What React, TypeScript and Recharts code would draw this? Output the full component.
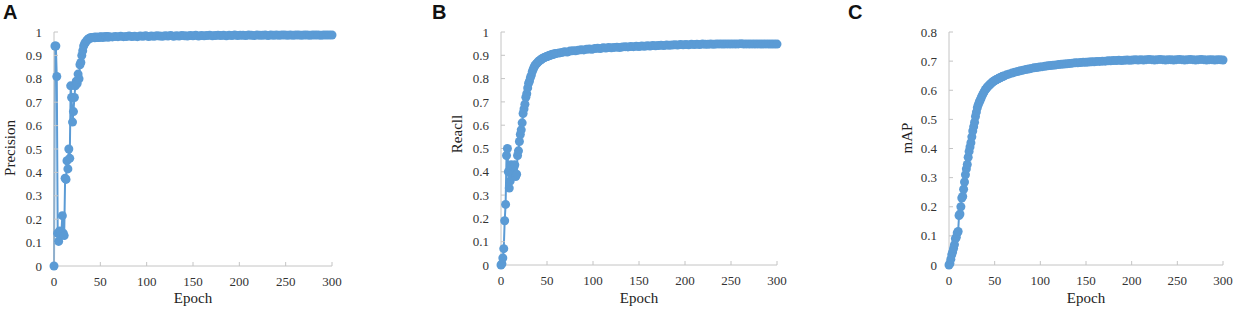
import React from 'react';
import { LineChart, Line, XAxis, YAxis, Label } from 'recharts';

// epochs 0..60 one by one, then every 3rd epoch up to 300
const earlyEpochs = Array.from({ length: 61 }, (_, i) => i);
const lateEpochs = Array.from({ length: 80 }, (_, i) => 63 + i * 3);
const epochs = [...earlyEpochs, ...lateEpochs];

const xTicks = [0, 50, 100, 150, 200, 250, 300];
const unitTicks = [0, 0.1, 0.2, 0.3, 0.4, 0.5, 0.6, 0.7, 0.8, 0.9, 1];
const mapTicks = [0, 0.1, 0.2, 0.3, 0.4, 0.5, 0.6, 0.7, 0.8];

const precision = [
  0, 0.94, 0.94, 0.81, 0.14, 0.105, 0.15, 0.13, 0.145, 0.215,
  0.14, 0.13, 0.375, 0.37, 0.45, 0.415, 0.5, 0.46, 0.77, 0.72,
  0.615, 0.66, 0.72, 0.77, 0.79, 0.78, 0.82, 0.8, 0.86, 0.87,
  0.9, 0.92, 0.94, 0.95, 0.955, 0.962, 0.966, 0.97, 0.972, 0.975,
  0.974, 0.977, 0.976, 0.978, 0.975, 0.979, 0.977, 0.978, 0.976, 0.979,
  0.978, 0.98, 0.977, 0.979, 0.978, 0.98, 0.979, 0.981, 0.978, 0.98,
  0.979,
  0.979, 0.981, 0.98, 0.982, 0.98, 0.981, 0.983, 0.981, 0.982, 0.98,
  0.983, 0.982, 0.984, 0.981, 0.983, 0.982, 0.984, 0.983, 0.982, 0.984,
  0.983, 0.985, 0.982, 0.984, 0.983, 0.985, 0.984, 0.983, 0.985, 0.984,
  0.986, 0.983, 0.985, 0.984, 0.985, 0.986, 0.984, 0.985, 0.986, 0.985,
  0.986, 0.984, 0.986, 0.985, 0.987, 0.985, 0.986, 0.986, 0.985, 0.987,
  0.986, 0.985, 0.987, 0.986, 0.986, 0.987, 0.985, 0.987, 0.986, 0.987,
  0.986, 0.987, 0.987, 0.986, 0.987, 0.986, 0.987, 0.987, 0.986, 0.987,
  0.987, 0.986, 0.987, 0.987, 0.987, 0.986, 0.987, 0.987, 0.987, 0.987,
];

const recall = [
  0, 0.005, 0.03, 0.07, 0.19, 0.26, 0.47, 0.5, 0.4, 0.33,
  0.36, 0.43, 0.38, 0.4, 0.42, 0.43, 0.38, 0.39, 0.47, 0.49,
  0.53, 0.56, 0.58, 0.61, 0.65, 0.67, 0.69, 0.72, 0.735, 0.76,
  0.78, 0.79, 0.805, 0.815, 0.83, 0.84, 0.85, 0.856, 0.862, 0.866,
  0.87, 0.874, 0.878, 0.88, 0.884, 0.886, 0.888, 0.89, 0.892, 0.894,
  0.895, 0.897, 0.898, 0.9, 0.901, 0.902, 0.904, 0.905, 0.906, 0.907,
  0.908,
  0.91, 0.912, 0.915, 0.914, 0.918, 0.92, 0.919, 0.922, 0.924, 0.923,
  0.926, 0.927, 0.926, 0.929, 0.93, 0.929, 0.932, 0.931, 0.933, 0.932,
  0.934, 0.935, 0.933, 0.936, 0.937, 0.936, 0.938, 0.937, 0.939, 0.938,
  0.94, 0.939, 0.941, 0.94, 0.942, 0.941, 0.942, 0.943, 0.942, 0.944,
  0.943, 0.944, 0.945, 0.944, 0.946, 0.945, 0.946, 0.945, 0.947, 0.946,
  0.947, 0.946, 0.948, 0.947, 0.947, 0.948, 0.947, 0.948, 0.949, 0.948,
  0.948, 0.949, 0.948, 0.949, 0.948, 0.949, 0.95, 0.948, 0.949, 0.948,
  0.949, 0.948, 0.949, 0.948, 0.948, 0.949, 0.948, 0.948, 0.948, 0.948,
];

const mAP = [
  0, 0.005, 0.02, 0.035, 0.045, 0.057, 0.07, 0.09, 0.095, 0.11,
  0.115, 0.17, 0.175, 0.2, 0.23, 0.235, 0.26, 0.285, 0.31, 0.33,
  0.345, 0.37, 0.39, 0.405, 0.42, 0.44, 0.46, 0.475, 0.49, 0.51,
  0.525, 0.54, 0.55, 0.558, 0.565, 0.572, 0.58, 0.586, 0.592, 0.598,
  0.603, 0.607, 0.611, 0.614, 0.617, 0.62, 0.623, 0.626, 0.629, 0.631,
  0.633, 0.635, 0.637, 0.638, 0.64, 0.642, 0.643, 0.645, 0.646, 0.648,
  0.649,
  0.653, 0.656, 0.659, 0.662, 0.664, 0.667, 0.669, 0.671, 0.673, 0.675,
  0.677, 0.678, 0.68, 0.681, 0.682, 0.684, 0.685, 0.686, 0.687, 0.688,
  0.689, 0.69, 0.691, 0.692, 0.693, 0.694, 0.694, 0.695, 0.696, 0.696,
  0.697, 0.698, 0.698, 0.699, 0.699, 0.7, 0.7, 0.701, 0.701, 0.702,
  0.702, 0.703, 0.702, 0.703, 0.704, 0.703, 0.704, 0.705, 0.704, 0.705,
  0.704, 0.705, 0.706, 0.705, 0.704, 0.705, 0.706, 0.705, 0.704, 0.705,
  0.705, 0.704, 0.705, 0.706, 0.705, 0.704, 0.705, 0.706, 0.705, 0.704,
  0.705, 0.706, 0.705, 0.704, 0.705, 0.705, 0.704, 0.705, 0.705, 0.704,
];

const BLUE = '#5B9BD5';
const AXIS = '#C4C4C4';
const SERIF = '"Liberation Serif", "Times New Roman", serif';

interface PanelProps {
  letter: string;
  letterX: number;
  left: number;
  yLabel: string;
  values: number[];
  yMax: number;
  yTicks: number[];
  axisWidth: number;
  plotWidth: number;
  plotHeight: number;
  labelX: number;
  labelY: number;
}

function Panel(p: PanelProps) {
  const data = epochs.map((e, i) => ({ epoch: e, value: p.values[i] }));
  const marginRight = 13;
  const chartW = p.axisWidth + p.plotWidth + marginRight;
  const top = 32;
  const xAxisH = 312 - top - p.plotHeight;
  const epochX = p.axisWidth + p.plotWidth / 2;

  return (
    <div style={{ position: 'absolute', left: p.left, top: 0, width: chartW, height: 312 }}>
      <LineChart width={chartW} height={312} data={data} margin={{ top, right: marginRight, bottom: 0, left: 0 }}>
        <XAxis
          dataKey="epoch"
          type="number"
          domain={[0, 300]}
          ticks={xTicks}
          height={xAxisH}
          stroke={AXIS}
          tickSize={-4}
          tickMargin={15}
          tick={{ fontFamily: SERIF, fontSize: 13, fill: '#333' }}
        >
          <Label
            content={() => (
              <text x={epochX} y={303} textAnchor="middle" fontFamily={SERIF} fontSize={15} fill="#222">
                Epoch
              </text>
            )}
          />
        </XAxis>
        <YAxis
          type="number"
          domain={[0, p.yMax]}
          ticks={p.yTicks}
          width={p.axisWidth}
          stroke={AXIS}
          tickSize={-4}
          tickMargin={16}
          interval={0}
          tick={{ fontFamily: SERIF, fontSize: 13, fill: '#333' }}
        >
          <Label
            content={() => (
              <text
                x={p.labelX}
                y={p.labelY}
                transform={`rotate(-90, ${p.labelX}, ${p.labelY})`}
                textAnchor="middle"
                dominantBaseline="central"
                fontFamily={SERIF}
                fontSize={15}
                fill="#222"
              >
                {p.yLabel}
              </text>
            )}
          />
        </YAxis>
        <Line
          type="linear"
          dataKey="value"
          stroke={BLUE}
          strokeWidth={2}
          dot={{ r: 4.5, fill: BLUE, stroke: BLUE, strokeWidth: 0 }}
          activeDot={false}
          isAnimationActive={false}
        />
      </LineChart>
      <div
        style={{
          position: 'absolute',
          left: p.letterX,
          top: 1,
          fontFamily: '"Liberation Sans", Arial, sans-serif',
          fontWeight: 'bold',
          fontSize: 20,
          color: '#111',
        }}
      >
        {p.letter}
      </div>
    </div>
  );
}

export default function App() {
  return (
    <div style={{ position: 'absolute', left: 0, top: 0, width: 1240, height: 312, background: '#fff' }}>
      <Panel letter="A" letterX={3} left={0} yLabel="Precision" values={precision} yMax={1} yTicks={unitTicks}
        axisWidth={54} plotWidth={278} plotHeight={234} labelX={10} labelY={148} />
      <Panel letter="B" letterX={-14} left={446} yLabel="Reacll" values={recall} yMax={1} yTicks={unitTicks}
        axisWidth={55} plotWidth={276} plotHeight={233} labelX={11} labelY={134} />
      <Panel letter="C" letterX={-46} left={894} yLabel="mAP" values={mAP} yMax={0.8} yTicks={mapTicks}
        axisWidth={55} plotWidth={274} plotHeight={233} labelX={13} labelY={138} />
    </div>
  );
}
